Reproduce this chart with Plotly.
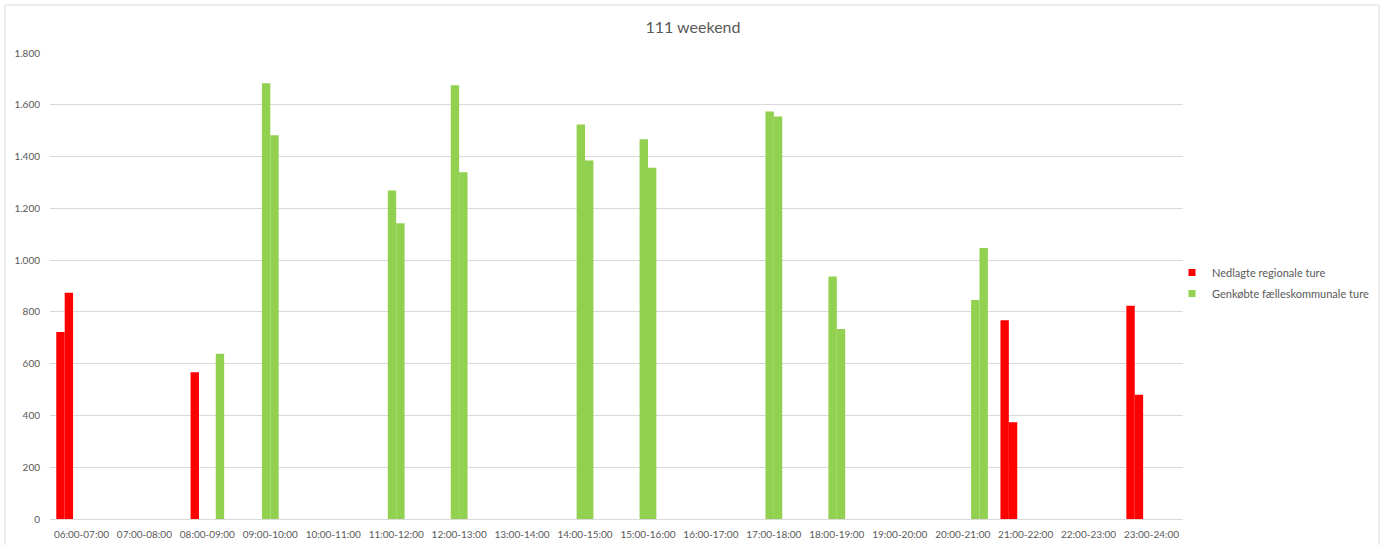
import plotly.graph_objects as go

categories = ["06:00-07:00", "07:00-08:00", "08:00-09:00", "09:00-10:00", "10:00-11:00",
              "11:00-12:00", "12:00-13:00", "13:00-14:00", "14:00-15:00", "15:00-16:00",
              "16:00-17:00", "17:00-18:00", "18:00-19:00", "19:00-20:00", "20:00-21:00",
              "21:00-22:00", "22:00-23:00", "23:00-24:00"]

n_series = 6  # number of clustered series per hour category

red_name = "Nedlagte regionale ture"
red_hours = ["06:00-07:00", "06:00-07:00", "08:00-09:00", "21:00-22:00", "21:00-22:00",
             "23:00-24:00", "23:00-24:00"]
red_series = [0, 1, 1, 0, 1, 0, 1]
red_values = [722, 874, 567, 768, 374, 824, 480]

green_name = "Genkøbte fælleskommunale ture"
green_hours = ["08:00-09:00", "09:00-10:00", "09:00-10:00", "11:00-12:00", "11:00-12:00",
               "12:00-13:00", "12:00-13:00", "14:00-15:00", "14:00-15:00", "15:00-16:00",
               "15:00-16:00", "17:00-18:00", "17:00-18:00", "18:00-19:00", "18:00-19:00",
               "20:00-21:00", "20:00-21:00"]
green_series = [4, 2, 3, 2, 3, 2, 3, 2, 3, 2, 3, 2, 3, 2, 3, 4, 5]
green_values = [638, 1683, 1482, 1269, 1142, 1675, 1339, 1524, 1385, 1467, 1357, 1574, 1555,
                937, 734, 846, 1047]

RED = "#FF0000"
GREEN = "#92D050"

gap_width = 1.5  # Excel gap width 150%
bw = 1.0 / (n_series + gap_width)


def offsets(series):
    return [-0.5 + gap_width / 2 * bw + k * bw for k in series]


W, H = 1386, 545
ml, mr, mt, mb = 50, 203, 53, 26
TXT = "#595959"
GRID = "#d9d9d9"
FONT = "Lato"

fig = go.Figure()
fig.add_trace(go.Bar(
    name=red_name, showlegend=False,
    x=[categories.index(h) for h in red_hours], y=red_values,
    offset=offsets(red_series), width=[bw] * len(red_values),
    marker=dict(color=RED, line=dict(width=0)),
))
fig.add_trace(go.Bar(
    name=green_name, showlegend=False,
    x=[categories.index(h) for h in green_hours], y=green_values,
    offset=offsets(green_series), width=[bw] * len(green_values),
    marker=dict(color=GREEN, line=dict(width=0)),
))
# legend keys (small squares like the original)
for name, col, grp in [(red_name, RED, "r"), (green_name, GREEN, "g")]:
    fig.add_trace(go.Scatter(
        name=name, x=[None], y=[None], mode="markers", legendgroup=grp,
        marker=dict(symbol="square", size=7, color=col), hoverinfo="skip",
    ))

pw = W - ml - mr
ph = H - mt - mb
fig.add_shape(type="rect", xref="paper", yref="paper",
              x0=(5 - ml) / pw, x1=(1379 - ml) / pw,
              y0=(H - mb - 548) / ph, y1=(H - mb - 5) / ph,
              line=dict(color=GRID, width=1), fillcolor="rgba(0,0,0,0)", layer="below")

fig.update_layout(
    width=W, height=H,
    margin=dict(l=ml, r=mr, t=mt, b=mb, autoexpand=False),
    paper_bgcolor="white", plot_bgcolor="white",
    font=dict(family=FONT, size=10, color=TXT),
    separators=",.",
    title=dict(text="111 weekend", x=0.5, xanchor="center", xref="container",
               y=1 - 27 / H, yanchor="middle", font=dict(family=FONT, size=16, color=TXT)),
    barmode="overlay",
    showlegend=True,
    legend=dict(x=(1172 - ml) / pw, xanchor="left", y=(H - mb - 283) / ph, yanchor="middle",
                font=dict(family=FONT, size=11, color=TXT), bgcolor="rgba(0,0,0,0)",
                itemwidth=30, traceorder="grouped", tracegroupgap=2),
    xaxis=dict(range=[-0.5, len(categories) - 0.5], tickmode="array",
               tickvals=list(range(len(categories))), ticktext=categories,
               showgrid=False, zeroline=False, showline=False, ticks="",
               ticklabelstandoff=8,
               tickfont=dict(family=FONT, size=10, color=TXT), fixedrange=True),
    yaxis=dict(range=[0, 1800], dtick=200, tick0=0, showgrid=True, gridcolor=GRID, gridwidth=1,
               zeroline=True, zerolinecolor=GRID, zerolinewidth=1, showline=False, ticks="",
               separatethousands=True, tickformat=",d", ticklabelstandoff=9,
               tickfont=dict(family=FONT, size=10, color=TXT), fixedrange=True),
)

fig.write_html("out.html")
